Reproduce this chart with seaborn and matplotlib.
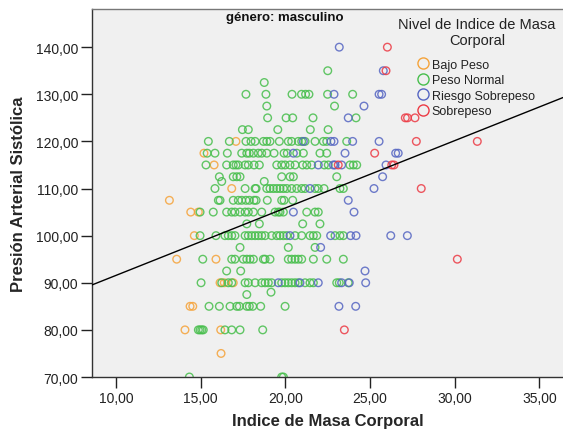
import numpy as np
import pandas as pd
import matplotlib
matplotlib.use("Agg")
import matplotlib.pyplot as plt
from matplotlib.lines import Line2D
from matplotlib.ticker import FuncFormatter
import seaborn as sns

# ---------------- data ----------------
categories = ["Bajo Peso", "Peso Normal", "Riesgo Sobrepeso", "Sobrepeso"]
palette = ["#F5A33A", "#47BE4C", "#5565C2", "#EC3A44"]

bajo_imc = [17.08, 15.19, 15.79, 16.83, 13.15, 14.41, 14.86, 14.62, 13.58, 15.90,
            16.14, 16.39, 16.92, 14.37, 14.53, 14.07, 16.18, 16.20]
bajo_pas = [120, 117.5, 115, 110, 107.5, 105, 105, 100, 95, 95,
            90, 90, 90, 85, 85, 80, 80, 75]

normal_rows_pas = [135, 132.5, 130, 127.5, 125, 122.5, 120, 117.5, 115, 112.5, 111.5,
                   110, 107.5, 105, 102.5, 100, 97.5, 95, 92.5, 90, 88, 87.5, 85, 80, 70]
normal_rows_imc = [
    [22.50],
    [18.75],
    [17.67, 18.85, 20.39, 20.95, 21.19, 21.39, 22.49, 23.97],
    [18.90, 22.90],
    [18.95, 20.04, 20.43, 21.63, 24.17],
    [17.46, 17.81, 19.55, 21.47, 22.52],
    [15.45, 16.69, 17.67, 17.97, 18.21, 18.70, 18.90, 19.09, 19.64, 20.17, 20.37, 20.76,
     20.96, 21.16, 21.75, 22.24, 22.44, 23.62],
    [15.38, 15.84, 16.57, 17.42, 17.72, 17.87, 18.11, 18.40, 18.60, 18.90, 19.33, 19.92,
     20.11, 20.67, 21.06, 22.04, 22.44],
    [15.31, 16.53, 16.92, 17.08, 17.22, 17.62, 17.81, 18.15, 18.46, 19.49, 19.78, 19.98,
     20.27, 20.57, 21.02, 21.26, 21.55, 22.30, 22.53, 23.81, 24.01, 24.21],
    [16.10, 16.92, 17.13, 17.32, 19.78, 20.27, 20.47, 23.03],
    [16.24, 18.75],
    [15.84, 17.62, 18.21, 18.27, 18.90, 19.09, 19.29, 19.49, 19.68, 19.88, 20.08, 20.37,
     20.67, 20.96, 21.16, 21.75, 21.94, 22.28, 23.22, 23.42],
    [16.04, 16.14, 16.92, 17.22, 17.42, 17.67, 17.87, 18.15, 18.27, 18.93, 19.78, 19.92, 20.43],
    [14.96, 15.74, 16.53, 16.83, 17.02, 17.32, 17.62, 17.81, 18.11, 18.60, 19.39, 19.58,
     19.68, 19.88, 21.26, 21.75, 21.94],
    [17.72, 18.46, 21.02, 22.04],
    [14.96, 15.90, 16.43, 16.63, 16.83, 17.02, 17.62, 17.81, 18.01, 18.21, 18.40, 18.60,
     18.80, 19.19, 19.49, 19.68, 19.88, 20.08, 20.57, 20.96, 21.45, 21.65, 21.85, 22.93,
     23.22, 23.42],
    [17.32, 20.17, 21.75],
    [15.12, 16.83, 17.02, 17.51, 17.72, 17.91, 18.11, 18.70, 18.80, 19.09, 20.17, 20.37,
     20.57, 20.76, 20.96, 21.65, 22.44, 23.42],
    [16.53, 17.36],
    [15.02, 16.24, 16.63, 16.83, 17.62, 17.81, 18.21, 18.60, 18.80, 18.99, 19.19, 19.78,
     19.98, 20.17, 20.37, 20.57, 20.76, 21.16, 21.45, 21.65, 23.03, 23.18, 23.71],
    [19.15],
    [17.72],
    [15.49, 16.10, 16.73, 17.13, 17.28, 17.72, 17.87, 18.07, 18.54, 19.98],
    [14.86, 14.96, 15.06, 15.15, 16.43, 16.83, 17.32, 18.66],
    [14.33, 19.78, 19.88],
]

riesgo_imc = [23.18, 25.78, 22.87, 25.53, 25.68, 24.64, 23.71, 21.06, 22.69, 22.87,
              23.97, 25.53, 20.47, 23.52, 26.51, 26.66, 21.94, 22.83, 22.93, 23.32,
              25.94, 25.74, 21.45, 25.23, 23.71, 20.47, 24.05, 20.27, 22.67, 23.85,
              24.17, 26.22, 27.20, 22.08, 24.70, 19.58, 20.86, 21.94, 23.32, 23.77,
              24.74, 23.16, 24.15]
riesgo_pas = [140, 135, 130, 130, 130, 127.5, 125, 120, 120, 120,
              120, 120, 117.5, 117.5, 117.5, 117.5, 115, 115, 115, 115,
              115, 112.5, 110, 110, 107.5, 105, 105, 100, 100, 100,
              100, 100, 100, 97.5, 92.5, 90, 90, 90, 90, 90,
              90, 85, 85]

sobre_imc = [26.02, 25.94, 27.08, 27.21, 27.65, 27.73, 31.33, 25.27, 23.12, 26.28,
             26.41, 28.02, 30.15, 23.48]
sobre_pas = [140, 135, 125, 125, 125, 120, 120, 117.5, 115, 115,
             115, 110, 95, 80]

# fitted line shown in the reference (total sample)
fit_intercept = 77.27
fit_slope = 1.43

x_ticks = [10, 15, 20, 25, 30, 35]
y_ticks = [70, 80, 90, 100, 110, 120, 130, 140]

# ---------------- build table ----------------
normal_imc = [v for row in normal_rows_imc for v in row]
normal_pas = [p for p, row in zip(normal_rows_pas, normal_rows_imc) for _ in row]

df = pd.DataFrame({
    "imc": bajo_imc + normal_imc + riesgo_imc + sobre_imc,
    "pas": bajo_pas + normal_pas + riesgo_pas + sobre_pas,
    "nivel": ([categories[0]] * len(bajo_imc) + [categories[1]] * len(normal_imc)
              + [categories[2]] * len(riesgo_imc) + [categories[3]] * len(sobre_imc)),
})

# ---------------- plot ----------------
sns.set_theme(style="white")
plt.rcParams["font.family"] = ["Liberation Sans", "DejaVu Sans"]

fig = plt.figure(figsize=(5.63, 4.31), dpi=100)
ax = fig.add_axes([92 / 563, 53 / 431, 471 / 563, 368 / 431])
ax.set_facecolor("#F0F0F0")

sns.scatterplot(data=df, x="imc", y="pas", hue="nivel", hue_order=categories,
                palette=palette, s=30, marker="o", linewidth=1.0, legend=False, ax=ax)
coll = ax.collections[0]
fc = coll.get_facecolors()
fc[:, 3] = 0.85
coll.set_edgecolors(fc)
coll.set_facecolors("none")

xmin, xmax = 8.58, 36.39
xs = np.array([xmin, xmax])
ax.plot(xs, fit_intercept + fit_slope * xs, color="black", lw=1.0, zorder=3)

ax.set_xlim(xmin, xmax)
ax.set_ylim(70, 148.1)
ax.set_xticks(x_ticks)
ax.set_yticks(y_ticks)
fmt = FuncFormatter(lambda v, p: f"{v:.2f}".replace(".", ","))
ax.xaxis.set_major_formatter(fmt)
ax.yaxis.set_major_formatter(fmt)
ax.tick_params(axis="both", direction="out", length=8, width=1.0, color="#222222",
               labelsize=10, labelcolor="#222222", pad=2, bottom=True, left=True)

for s in ["left", "bottom"]:
    ax.spines[s].set_color("#333333")
    ax.spines[s].set_linewidth(1.0)
ax.spines["top"].set_color("#777777")
ax.spines["top"].set_linewidth(1.0)
ax.spines["right"].set_visible(False)

ax.set_xlabel("Indice de Masa Corporal", fontsize=12, fontweight="bold", labelpad=6)
ax.set_ylabel("Presión Arterial Sistólica", fontsize=12, fontweight="bold", labelpad=7)

ax.text(0.41, 0.995, "género: masculino", transform=ax.transAxes, ha="center", va="top",
        fontsize=9.5, fontweight="bold", color="#111111")

handles = [Line2D([], [], marker="o", linestyle="none", markersize=8,
                  markerfacecolor="none", markeredgecolor=c, markeredgewidth=1.0)
           for c in palette]
leg = ax.legend(handles, categories, title="Nivel de Indice de Masa\nCorporal",
                loc="upper right", bbox_to_anchor=(1.0, 0.998), frameon=False,
                fontsize=9, title_fontsize=10.5, handlelength=0.7, handletextpad=0.3,
                labelspacing=0.28, alignment="center", borderaxespad=0.2)
leg._legend_box.sep = 8
leg.get_title().set_multialignment("center")
for t in leg.get_texts():
    t.set_color("#222222")
leg.get_title().set_color("#222222")

fig.savefig("out.png", dpi=100)
